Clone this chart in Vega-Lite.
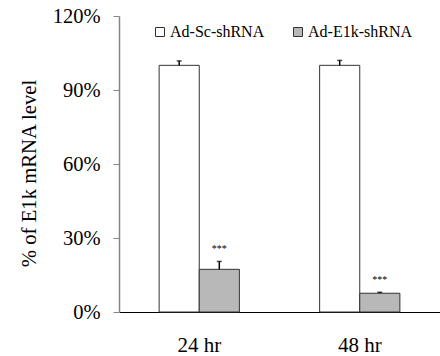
{
  "$schema": "https://vega.github.io/schema/vega-lite/v6.json",
  "autosize": {"type": "none"},
  "padding": {"left": 119, "top": 16, "right": 0, "bottom": 44},
  "width": 321,
  "height": 296,
  "config": {
    "font": "Liberation Serif",
    "view": {"stroke": null},
    "axis": {"labelFont": "Liberation Serif", "titleFont": "Liberation Serif", "labelColor": "#000", "titleColor": "#000", "grid": false, "titleFontWeight": "normal"},
    "legend": {"labelFont": "Liberation Serif"},
    "text": {"font": "Liberation Serif"}
  },
  "data": {
    "values": [
      {"time": "24 hr", "group": "Ad-Sc-shRNA", "value": 100, "hi": 101.8, "star": ""},
      {"time": "24 hr", "group": "Ad-E1k-shRNA", "value": 17.3, "hi": 20.5, "star": "***"},
      {"time": "48 hr", "group": "Ad-Sc-shRNA", "value": 100, "hi": 102, "star": ""},
      {"time": "48 hr", "group": "Ad-E1k-shRNA", "value": 7.6, "hi": 8.0, "star": "***"}
    ]
  },
  "encoding": {
    "x": {"field": "time", "type": "nominal", "sort": ["24 hr", "48 hr"],
      "scale": {"paddingInner": 0.5, "paddingOuter": 0.25},
      "axis": {"title": null, "labelAngle": 0, "labelFontSize": 21, "labelPadding": 22, "ticks": false, "domainColor": "#000", "domainWidth": 1}},
    "xOffset": {"field": "group", "type": "nominal", "sort": ["Ad-Sc-shRNA", "Ad-E1k-shRNA"], "scale": {"paddingInner": 0, "paddingOuter": 0}}
  },
  "layer": [
    {
      "mark": {"type": "bar", "stroke": "#333", "strokeWidth": 1},
      "encoding": {
        "y": {"field": "value", "type": "quantitative",
          "scale": {"domain": [0, 120]},
          "axis": {"title": "% of E1k mRNA level", "titleFontSize": 20.7, "titlePadding": 13, "titleY": 157, "values": [0, 30, 60, 90, 120], "labelExpr": "datum.value + '%'", "labelFontSize": 20.5, "labelPadding": 13, "tickSize": 6, "tickColor": "#868686", "domainColor": "#868686", "domainWidth": 1.5}},
        "fill": {"field": "group", "type": "nominal", "sort": ["Ad-Sc-shRNA", "Ad-E1k-shRNA"],
          "scale": {"domain": ["Ad-Sc-shRNA", "Ad-E1k-shRNA"], "range": ["#ffffff", "#b8b8b8"]},
          "legend": {"title": null, "orient": "none", "legendX": 33, "legendY": 8, "direction": "horizontal", "symbolType": "square", "symbolSize": 81, "symbolStrokeColor": "#333", "symbolStrokeWidth": 1, "labelFontSize": 16, "labelOffset": 2, "columnPadding": 25, "labelColor": "#000"}}
      }
    },
    {
      "mark": {"type": "rule", "color": "#000", "strokeWidth": 1.5},
      "encoding": {
        "y": {"field": "value", "type": "quantitative"},
        "y2": {"field": "hi"}
      }
    },
    {
      "mark": {"type": "tick", "color": "#000", "orient": "horizontal", "size": 5, "thickness": 1.5},
      "encoding": {
        "y": {"field": "hi", "type": "quantitative"}
      }
    },
    {
      "mark": {"type": "text", "fontSize": 10, "dy": -12, "baseline": "middle", "color": "#000"},
      "encoding": {
        "y": {"field": "hi", "type": "quantitative"},
        "text": {"field": "star"}
      }
    }
  ]
}
